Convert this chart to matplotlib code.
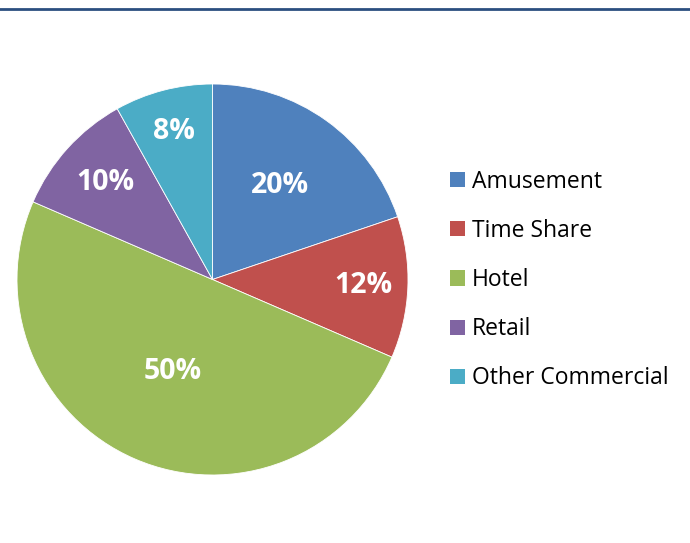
import numpy as np
import matplotlib
matplotlib.use("Agg")
import matplotlib.pyplot as plt
from matplotlib.patches import Rectangle
from matplotlib.lines import Line2D

categories = ["Amusement", "Time Share", "Hotel", "Retail", "Other Commercial"]
shares = [19.8, 11.7, 50.0, 10.4, 8.1]
pct_labels = ["20%", "12%", "50%", "10%", "8%"]
colors = ["#4F81BD", "#C0504D", "#9BBB59", "#8064A2", "#4BACC6"]
# distance of each percentage label from the centre, as a fraction of radius
label_r = [0.59, 0.77, 0.51, 0.74, 0.78]

plt.rcParams["font.family"] = ["Open Sans", "DejaVu Sans"]

fig = plt.figure(figsize=(6.9, 5.43), dpi=100)
W, H = 690, 543

# pie centred at (212, 279) px, radius ~195 px
cx, cy, r = 212.5, 279.5, 195.5
ax = fig.add_axes([(cx - r) / W, 1 - (cy + r) / H, 2 * r / W, 2 * r / H])
wedges, _ = ax.pie(shares, colors=colors, startangle=90, counterclock=False,
                   radius=1.0, wedgeprops=dict(linewidth=0.6, edgecolor="white"))
ax.set_xlim(-1, 1)
ax.set_ylim(-1, 1)
ax.set_aspect("equal")

for w, lab, lr in zip(wedges, pct_labels, label_r):
    ang = np.deg2rad((w.theta1 + w.theta2) / 2)
    ax.text(lr * np.cos(ang), lr * np.sin(ang), lab, ha="center", va="center",
            color="white", fontsize=20.5, fontweight="bold")

handles = [Rectangle((0, 0), 1, 1, facecolor=c, edgecolor="none") for c in colors]
fig.legend(handles, categories, loc="center left",
           bbox_to_anchor=(439 / W, 1 - 280 / H), frameon=False,
           fontsize=16.5, handlelength=0.65, handleheight=0.65,
           handletextpad=0.3, labelspacing=1.1, borderpad=0)

# rule across the top
fig.add_artist(Line2D([0, 1], [1 - 8.5 / H, 1 - 8.5 / H], color="#2B4F80", lw=2,
                      transform=fig.transFigure))

fig.savefig("out.png", dpi=100, facecolor="white")
